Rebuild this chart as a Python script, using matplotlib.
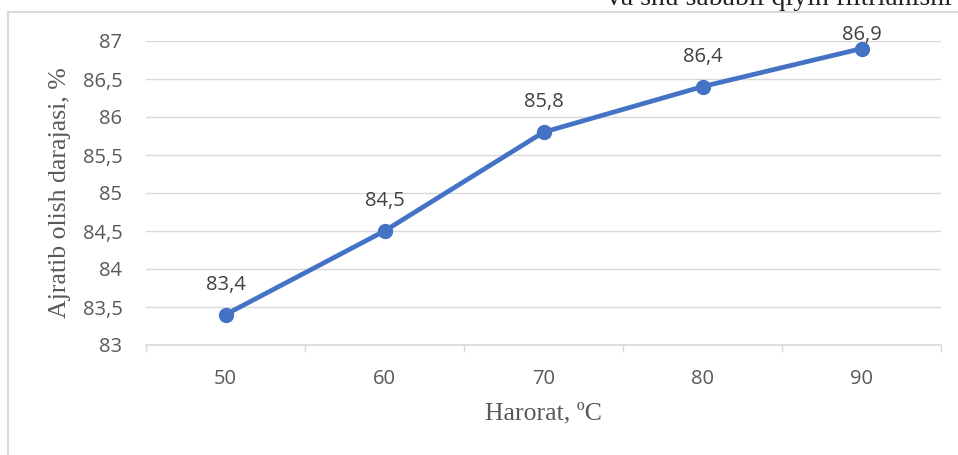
import matplotlib.pyplot as plt
from matplotlib.lines import Line2D

temps = [50, 60, 70, 80, 90]
yields = [83.4, 84.5, 85.8, 86.4, 86.9]
y_ticks = [83, 83.5, 84, 84.5, 85, 85.5, 86, 86.5, 87]

grey = '#595959'
grid = '#d9d9d9'
blue = '#4472C4'
serif = 'Liberation Serif'
sans = 'Open Sans'

W, H = 958, 455
fig = plt.figure(figsize=(W / 100, H / 100), dpi=100)
ax = fig.add_axes([146 / W, 1 - 345 / H, (941 - 146) / W, (345 - 41) / H])

x = list(range(len(temps)))
ax.plot(x, yields, color=blue, lw=3.4, marker='o', ms=10, solid_capstyle='round', zorder=3)

ax.set_xlim(-0.5, len(temps) - 0.5)
ax.set_ylim(83, 87)

# value labels sit above the points but stay inside the chart frame
top_px = H - 40  # highest allowed baseline, in pixels from the bottom
for xi, v in zip(x, yields):
    _, py = ax.transData.transform((xi, v))
    dy = min(25, top_px - py)
    ax.annotate(f'{v:.1f}'.replace('.', ','), (xi, v), xytext=(0, dy * 72 / 100),
                textcoords='offset points', ha='center', va='baseline',
                fontsize=14.5, color='#404040', family=sans)

ax.set_yticks(y_ticks)
ax.set_yticklabels([f'{t:g}'.replace('.', ',') for t in y_ticks], family=sans, fontsize=14.5, color=grey)
ax.set_xticks(x)
ax.set_xticklabels([str(t) for t in temps], family=sans, fontsize=14.5, color=grey)
ax.set_xticks([i - 0.5 for i in range(len(temps) + 1)], minor=True)
ax.tick_params(axis='y', length=0, pad=17)
ax.tick_params(axis='x', which='major', length=0, pad=17)
ax.tick_params(axis='x', which='minor', length=5, width=1, color=grid, direction='out')
ax.grid(axis='y', color=grid, lw=1)
ax.set_axisbelow(True)
for s in ['top', 'right', 'left']:
    ax.spines[s].set_visible(False)
ax.spines['bottom'].set_color(grid)
ax.spines['bottom'].set_linewidth(1.2)

ax.set_ylabel('Ajratib olish darajasi, %', family=serif, fontsize=18.5, color=grey, labelpad=8)
ax.set_xlabel('Harorat, ºC', family=serif, fontsize=18.5, color=grey, labelpad=10)

# outer chart frame
fig.add_artist(Line2D([8 / W, 8 / W], [0, 1 - 12 / H], color=grid, lw=1.5))
fig.add_artist(Line2D([8 / W, 1], [1 - 12 / H, 1 - 12 / H], color=grid, lw=1.5))

# caption text running off the top edge
fig.text(952 / W, 1 - 5 / H, 'va shu sababli qiyin filtrlanishi', ha='right', va='baseline',
         family=serif, fontsize=20, color='#222222')

fig.savefig('out.png', dpi=100)
